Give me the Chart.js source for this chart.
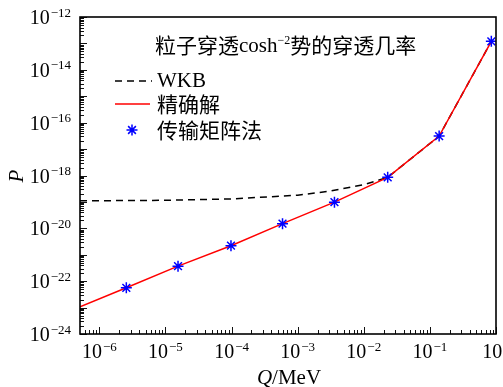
<!DOCTYPE html>
<html>
<head>
<meta charset="utf-8">
<script src="https://cdn.jsdelivr.net/npm/chart.js@4.4.1/dist/chart.umd.min.js"></script>
<style>
  body { margin: 0; background: #fff; }
  #wrap { width: 503px; height: 387px; }
</style>
</head>
<body>
<div id="wrap"><canvas id="grafica" width="503" height="387"></canvas></div>
<script>
/* -----------------------------
   DATOS
----------------------------- */
const tituloPartes = ["粒子穿透", "cosh", "−2", "势的穿透几率"];
const nombresSeries = ["WKB", "精确解", "传输矩阵法"];

// transfer matrix method (asterisks)
const tmmQ = [2.56e-6, 1.55e-5, 9.8e-5, 5.9e-4, 3.6e-3, 2.3e-2, 1.38e-1, 8.5e-1];
const tmmP = [5.6e-23, 3.7e-22, 2.2e-21, 1.5e-20, 9.8e-20, 8.5e-19, 3.1e-17, 1.2e-13];

// exact solution (red line)
const exactoQ = [5.1e-7, 2.56e-6, 1.55e-5, 9.8e-5, 5.9e-4, 3.6e-3, 2.3e-2, 1.38e-1, 8.5e-1];
const exactoP = [1.07e-23, 5.6e-23, 3.7e-22, 2.2e-21, 1.5e-20, 9.8e-20, 8.5e-19, 3.1e-17, 1.2e-13];

// WKB (dashed)
const wkbQ = [5.1e-7, 1e-5, 1e-4, 1e-3, 3.2e-3, 1e-2, 2.3e-2, 1.38e-1, 8.5e-1];
const wkbP = [1.1e-19, 1.15e-19, 1.3e-19, 1.8e-19, 2.6e-19, 4.5e-19, 8.5e-19, 3.1e-17, 1.2e-13];

const xTickExp = [-6, -5, -4, -3, -2, -1, 0];
const yTickExp = [-24, -22, -20, -18, -16, -14, -12];
const xRango = [5.1e-7, 1];
const yRango = [1e-24, 1e-12];

const pares = (xs, ys) => xs.map((x, i) => ({ x: x, y: ys[i] }));

const SERIF = '"Liberation Serif", "Times New Roman", serif';
const CJK = '"Noto Sans CJK SC", sans-serif';

function potencia(ctx, exp, x, y, align) {
    // "10" con exponente elevado; y = linea base del "10"
    const base = "10";
    const sup = exp === 0 ? "0" : "−" + Math.abs(exp);
    ctx.font = "20px " + SERIF;
    const wb = ctx.measureText(base).width;
    ctx.font = "13px " + SERIF;
    const ws = ctx.measureText(sup).width;
    const total = wb + ws + 1;
    let x0 = x;
    if (align === "center") x0 = x - total / 2;
    if (align === "right") x0 = x - total;
    ctx.textAlign = "left";
    ctx.textBaseline = "alphabetic";
    ctx.font = "20px " + SERIF;
    ctx.fillText(base, x0, y);
    ctx.font = "13px " + SERIF;
    ctx.fillText(sup, x0 + wb + 1, y - 7.5);
}

/* -----------------------------
   PLUGIN: ejes, ticks, textos
----------------------------- */
const decoracion = {
    id: "decoracion",
    afterDraw(chart) {
        const ctx = chart.ctx;
        const a = chart.chartArea;
        const sx = chart.scales.x;
        const sy = chart.scales.y;
        ctx.save();
        ctx.strokeStyle = "#111";
        ctx.fillStyle = "#111";
        ctx.lineWidth = 1;

        // ticks x (hacia dentro)
        for (let e = -7; e <= 0; e++) {
            for (let m = 1; m <= 9; m++) {
                const v = m * Math.pow(10, e);
                if (v < xRango[0] || v > xRango[1] * 1.0001) continue;
                const px = Math.round(sx.getPixelForValue(v)) + 0.5;
                const len = m === 1 ? 7 : 4;
                ctx.beginPath();
                ctx.moveTo(px, a.bottom);
                ctx.lineTo(px, a.bottom - len);
                ctx.stroke();
            }
        }
        // ticks y (hacia dentro)
        for (let e = -24; e <= -12; e++) {
            for (let m = 1; m <= 9; m++) {
                const v = m * Math.pow(10, e);
                if (v < yRango[0] * 0.9999 || v > yRango[1] * 1.0001) continue;
                const py = Math.round(sy.getPixelForValue(v)) + 0.5;
                const len = m === 1 ? 7 : 4;
                ctx.beginPath();
                ctx.moveTo(a.left, py);
                ctx.lineTo(a.left + len, py);
                ctx.stroke();
            }
        }

        // marco
        ctx.lineWidth = 1.6;
        ctx.strokeStyle = "#000";
        ctx.strokeRect(a.left, a.top, a.right - a.left, a.bottom - a.top);

        // etiquetas de ticks
        ctx.fillStyle = "#000";
        xTickExp.forEach(e => {
            const px = sx.getPixelForValue(Math.pow(10, e));
            potencia(ctx, e, px, 358, "center");
        });
        yTickExp.forEach(e => {
            const py = sy.getPixelForValue(Math.pow(10, e));
            potencia(ctx, e, 71, py + 7, "right");
        });

        // titulos de ejes
        ctx.textBaseline = "alphabetic";
        ctx.textAlign = "left";
        ctx.font = "italic 21px " + SERIF;
        const wq = ctx.measureText("Q").width;
        ctx.font = "21px " + SERIF;
        const wr = ctx.measureText("/MeV").width;
        const xq = 289 - (wq + wr) / 2;
        ctx.font = "italic 21px " + SERIF;
        ctx.fillText("Q", xq, 384);
        ctx.font = "21px " + SERIF;
        ctx.fillText("/MeV", xq + wq, 384);

        ctx.save();
        ctx.translate(23, 176);
        ctx.rotate(-Math.PI / 2);
        ctx.font = "italic 21px " + SERIF;
        ctx.textAlign = "center";
        ctx.fillText("P", 0, 0);
        ctx.restore();

        // titulo
        ctx.textAlign = "left";
        ctx.textBaseline = "middle";
        let tx = 155;
        const ty = 45;
        ctx.font = "21px " + CJK;
        ctx.fillText(tituloPartes[0], tx, ty);
        tx += ctx.measureText(tituloPartes[0]).width;
        ctx.font = "21px " + SERIF;
        ctx.textBaseline = "alphabetic";
        ctx.fillText(tituloPartes[1], tx, ty + 7);
        tx += ctx.measureText(tituloPartes[1]).width;
        ctx.font = "12px " + SERIF;
        ctx.fillText(tituloPartes[2], tx, ty - 1);
        tx += ctx.measureText(tituloPartes[2]).width;
        ctx.font = "21px " + CJK;
        ctx.textBaseline = "middle";
        ctx.fillText(tituloPartes[3], tx, ty);

        // leyenda
        ctx.lineWidth = 1.5;
        ctx.strokeStyle = "#000";
        ctx.setLineDash([7, 5]);
        ctx.beginPath();
        ctx.moveTo(115, 81);
        ctx.lineTo(152, 81);
        ctx.stroke();
        ctx.setLineDash([]);
        ctx.strokeStyle = "#ff0000";
        ctx.beginPath();
        ctx.moveTo(115, 104);
        ctx.lineTo(150, 104);
        ctx.stroke();
        ctx.strokeStyle = "#0000ff";
        ctx.lineWidth = 1.5;
        Chart.helpers.drawPoint(ctx, { pointStyle: "star", radius: 5.5, borderWidth: 1.5 }, 132, 130);

        ctx.fillStyle = "#000";
        ctx.font = "21px " + SERIF;
        ctx.textBaseline = "alphabetic";
        ctx.fillText(nombresSeries[0], 157, 87);
        ctx.font = "21px " + CJK;
        ctx.textBaseline = "middle";
        ctx.fillText(nombresSeries[1], 157, 104);
        ctx.fillText(nombresSeries[2], 157, 130);
        ctx.restore();
    }
};

/* -----------------------------
   GRAFICA
----------------------------- */
const ctx = document.getElementById("grafica");

new Chart(ctx, {
    type: "line",
    data: {
        datasets: [
            {
                label: nombresSeries[0],
                data: pares(wkbQ, wkbP),
                borderColor: "#000",
                borderWidth: 1.5,
                borderDash: [7, 5],
                pointRadius: 0,
                tension: 0,
                fill: false,
                order: 3
            },
            {
                label: nombresSeries[1],
                data: pares(exactoQ, exactoP),
                borderColor: "#ff0000",
                borderWidth: 1.5,
                pointRadius: 0,
                tension: 0,
                fill: false,
                order: 2
            },
            {
                label: nombresSeries[2],
                data: pares(tmmQ, tmmP),
                showLine: false,
                pointStyle: "star",
                pointRadius: 5.5,
                pointBorderColor: "#0000ff",
                pointBackgroundColor: "#0000ff",
                pointBorderWidth: 1.5,
                order: 1
            }
        ]
    },
    options: {
        responsive: false,
        animation: false,
        devicePixelRatio: 1,
        layout: { padding: { top: 17, right: 7, left: 0, bottom: 0 } },
        plugins: {
            legend: { display: false },
            tooltip: { enabled: false }
        },
        scales: {
            x: {
                type: "logarithmic",
                min: xRango[0],
                max: xRango[1],
                grid: { display: false },
                border: { display: false },
                ticks: { display: false },
                afterFit: (s) => { s.height = 53; }
            },
            y: {
                type: "logarithmic",
                min: yRango[0],
                max: yRango[1],
                grid: { display: false },
                border: { display: false },
                ticks: { display: false },
                afterFit: (s) => { s.width = 80; }
            }
        }
    },
    plugins: [decoracion]
});
</script>
</body>
</html>
